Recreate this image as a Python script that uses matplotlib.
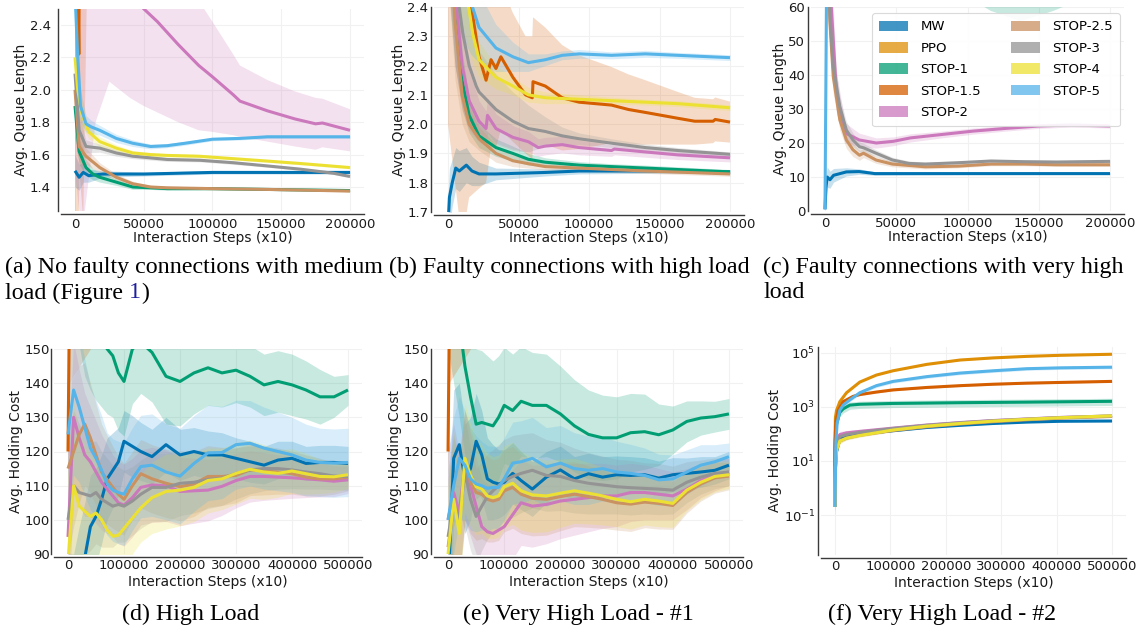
import numpy as np
import matplotlib
matplotlib.use("Agg")
import matplotlib.pyplot as plt
from matplotlib.patches import Patch
from matplotlib.ticker import NullLocator

plt.rcParams['font.family'] = ['DejaVu Sans']

METHODS = ["MW", "PPO", "STOP-1", "STOP-1.5", "STOP-2", "STOP-2.5", "STOP-3", "STOP-4", "STOP-5"]
COLORS = ["#0173b2", "#de8f05", "#029e73", "#d55e00", "#cc78bc", "#ca9161", "#949494", "#ece133", "#56b4e9"]

XTICKS_TOP = [0, 50000, 100000, 150000, 200000]
XTICKS_BOT = [0, 100000, 200000, 300000, 400000, 500000]
YTICKS_A = [1.4, 1.6, 1.8, 2.0, 2.2, 2.4]
YTICKS_B = [1.7, 1.8, 1.9, 2.0, 2.1, 2.2, 2.3, 2.4]
YTICKS_C = [0, 10, 20, 30, 40, 50, 60]
YTICKS_DE = [90, 100, 110, 120, 130, 140, 150]
YTICKS_F = [0.1, 10, 1000, 100000]

# ---------------- Panel (a): (step, mean, spread) ----------------
A_MW = [(0, 1.50, 0.10), (3000, 1.46, 0.08), (6000, 1.49, 0.06), (10000, 1.47, 0.04), (20000, 1.48, 0.02),
        (50000, 1.48, 0.012), (100000, 1.49, 0.01), (150000, 1.49, 0.01), (200000, 1.49, 0.01)]
A_S1 = [(0, 1.90, 0.2), (3000, 1.62, 0.08), (8000, 1.52, 0.05), (13000, 1.48, 0.035), (18000, 1.46, 0.03),
        (30000, 1.43, 0.02), (42000, 1.40, 0.015), (55000, 1.395, 0.01), (67000, 1.39, 0.01),
        (100000, 1.39, 0.008), (140000, 1.385, 0.006), (200000, 1.378, 0.006)]
A_S15 = [(0, 4.0, 2.8), (2800, 2.22, 1.0), (3200, 3.0, 1.5), (6000, 3.6, 2.4), (9000, 3.6, 0.8), (200000, 3.2, 0.5)]
A_S2 = [(0, 3.5, 2.0), (5000, 3.3, 2.2), (15000, 3.1, 1.3), (25000, 2.8, 0.75), (40000, 2.6, 0.65),
        (50000, 2.5, 0.6), (60000, 2.42, 0.56), (75000, 2.28, 0.48), (90000, 2.15, 0.4), (100000, 2.08, 0.34),
        (115000, 1.97, 0.25), (120000, 1.93, 0.22), (140000, 1.87, 0.19), (160000, 1.82, 0.17),
        (175000, 1.79, 0.16), (180000, 1.795, 0.15), (200000, 1.75, 0.13)]
A_S25 = [(0, 2.0, 0.3), (3000, 1.65, 0.1), (8000, 1.59, 0.05), (18000, 1.52, 0.03), (30000, 1.46, 0.02),
         (42000, 1.42, 0.015), (55000, 1.40, 0.01), (67000, 1.395, 0.01), (100000, 1.39, 0.008),
         (140000, 1.385, 0.006), (200000, 1.375, 0.006)]
A_S3 = [(0, 2.1, 0.3), (3000, 1.75, 0.1), (8000, 1.65, 0.04), (18000, 1.64, 0.025), (30000, 1.61, 0.02),
        (42000, 1.59, 0.015), (67000, 1.57, 0.012), (91000, 1.565, 0.01), (115000, 1.55, 0.01),
        (140000, 1.53, 0.008), (164000, 1.51, 0.008), (188000, 1.485, 0.008), (200000, 1.465, 0.008)]
A_S4 = [(0, 2.2, 0.3), (2000, 2.0, 0.15), (5000, 1.85, 0.08), (10000, 1.74, 0.04), (18000, 1.68, 0.03),
        (30000, 1.64, 0.02), (42000, 1.61, 0.015), (55000, 1.60, 0.012), (67000, 1.595, 0.01),
        (90000, 1.59, 0.01), (115000, 1.575, 0.008), (140000, 1.56, 0.008), (164000, 1.545, 0.008),
        (200000, 1.52, 0.008)]
A_S5 = [(0, 2.6, 0.5), (2000, 2.2, 0.2), (4000, 1.9, 0.1), (8000, 1.79, 0.05), (12000, 1.77, 0.04),
        (18000, 1.75, 0.03), (30000, 1.70, 0.025), (42000, 1.67, 0.02), (55000, 1.65, 0.015),
        (67000, 1.655, 0.012), (80000, 1.67, 0.012), (100000, 1.695, 0.01), (120000, 1.70, 0.01),
        (140000, 1.71, 0.01), (170000, 1.71, 0.01), (200000, 1.71, 0.01)]

# ---------------- Panel (b) ----------------
B_MW = [(0, 1.65, 0.1), (1000, 1.75, 0.1), (3000, 1.80, 0.08), (5500, 1.85, 0.07), (8000, 1.84, 0.07),
        (13000, 1.86, 0.06), (17000, 1.84, 0.05), (22000, 1.83, 0.04), (34000, 1.83, 0.02),
        (69000, 1.835, 0.012), (93000, 1.84, 0.01), (140000, 1.84, 0.008), (200000, 1.837, 0.006)]
B_S1 = [(0, 2.8, 0.3), (5000, 2.4, 0.2), (10000, 2.15, 0.1), (15000, 2.03, 0.06), (22000, 1.96, 0.04),
        (34000, 1.92, 0.03), (46000, 1.90, 0.025), (57000, 1.88, 0.02), (69000, 1.87, 0.015),
        (93000, 1.86, 0.012), (116000, 1.855, 0.01), (140000, 1.85, 0.01), (200000, 1.837, 0.008)]
B_S15 = [(0, 3.2, 1.2), (10000, 2.7, 1.1), (15000, 2.45, 0.7), (22000, 2.23, 0.45), (27000, 2.15, 0.35),
         (30500, 2.22, 0.3), (34000, 2.19, 0.27), (37500, 2.23, 0.25), (46000, 2.16, 0.22),
         (55000, 2.10, 0.2), (59800, 2.09, 0.21), (60300, 2.145, 0.22), (69000, 2.13, 0.2),
         (81000, 2.09, 0.18), (93000, 2.075, 0.16), (116000, 2.065, 0.13), (128000, 2.05, 0.12),
         (140000, 2.04, 0.11), (163000, 2.02, 0.09), (175000, 2.01, 0.08), (188000, 2.01, 0.075),
         (189500, 2.016, 0.075), (200000, 2.007, 0.07)]
B_S2 = [(0, 3.0, 0.4), (5000, 2.45, 0.25), (10000, 2.2, 0.15), (15000, 2.08, 0.1), (22000, 2.01, 0.07),
        (27000, 1.985, 0.06), (28000, 2.03, 0.06), (34000, 1.985, 0.05), (46000, 1.955, 0.04),
        (57000, 1.94, 0.035), (64000, 1.92, 0.03), (69000, 1.925, 0.03), (81000, 1.93, 0.028),
        (93000, 1.92, 0.025), (116000, 1.91, 0.02), (118000, 1.915, 0.02), (140000, 1.905, 0.018),
        (163000, 1.895, 0.016), (200000, 1.885, 0.014)]
B_S25 = [(0, 2.8, 0.3), (5000, 2.35, 0.2), (10000, 2.1, 0.1), (15000, 2.0, 0.06), (22000, 1.95, 0.04),
         (34000, 1.90, 0.03), (46000, 1.875, 0.02), (57000, 1.865, 0.015), (69000, 1.855, 0.012),
         (93000, 1.85, 0.01), (116000, 1.845, 0.01), (140000, 1.84, 0.008), (200000, 1.83, 0.008)]
B_S3 = [(0, 3.0, 0.5), (5000, 2.5, 0.3), (10500, 2.31, 0.25), (15000, 2.2, 0.2), (20000, 2.13, 0.15),
        (22000, 2.11, 0.14), (34000, 2.05, 0.12), (46000, 2.01, 0.1), (57000, 1.985, 0.08),
        (69000, 1.975, 0.05), (81000, 1.96, 0.03), (93000, 1.95, 0.02), (116000, 1.935, 0.015),
        (140000, 1.92, 0.012), (163000, 1.91, 0.01), (200000, 1.897, 0.008)]
B_S4 = [(0, 3.0, 0.4), (10000, 2.55, 0.2), (14000, 2.42, 0.15), (17500, 2.31, 0.1), (22000, 2.22, 0.06),
        (34000, 2.16, 0.04), (46000, 2.13, 0.03), (57000, 2.10, 0.025), (69000, 2.09, 0.02),
        (93000, 2.085, 0.015), (116000, 2.08, 0.012), (140000, 2.075, 0.01), (163000, 2.07, 0.01),
        (200000, 2.056, 0.01)]
B_S5 = [(0, 3.0, 0.4), (10000, 2.55, 0.25), (16000, 2.42, 0.18), (22000, 2.33, 0.12), (34000, 2.26, 0.08),
        (46000, 2.23, 0.05), (57000, 2.21, 0.03), (69000, 2.22, 0.02), (81000, 2.235, 0.015),
        (93000, 2.24, 0.015), (116000, 2.235, 0.012), (140000, 2.24, 0.012), (163000, 2.235, 0.01),
        (200000, 2.227, 0.01)]

# ---------------- Panel (c) ----------------
C_MW = [(0, 0.5, 0.5), (700, 7, 3), (1500, 10, 3), (3500, 9.2, 2.5), (6000, 10.5, 2), (15000, 11.5, 1.2),
        (24000, 11.6, 0.8), (35000, 11.0, 0.5), (60000, 11.0, 0.4), (100000, 11.0, 0.3),
        (150000, 11.0, 0.3), (200000, 11.0, 0.3)]
C_S1 = [(0, 150, 30), (20000, 90, 20), (50000, 80, 15), (100000, 78, 15), (116000, 77, 18),
        (137000, 76, 20), (160000, 77, 18), (200000, 78, 12)]
C_S2 = [(0, 120, 30), (3000, 70, 15), (8000, 35, 6), (14000, 23, 3), (24000, 20.9, 2), (36000, 20.0, 1.5),
        (48000, 20.5, 1.3), (60000, 21.5, 1.2), (82000, 22.5, 1.0), (104000, 23.5, 0.9),
        (127000, 24.3, 0.8), (150000, 25.0, 0.7), (173000, 25.3, 0.6), (200000, 25.0, 0.6)]
C_S25 = [(0, 100, 20), (3500, 55, 8), (5800, 39.5, 5), (10400, 26.8, 3), (15000, 20.9, 2.5), (19600, 18, 2),
         (24200, 16.4, 1.5), (27000, 17, 1.3), (35800, 15, 1), (47300, 13.8, 0.8), (70400, 13, 0.6),
         (93400, 13.2, 0.5), (116500, 13.8, 0.5), (139600, 13.8, 0.5), (162600, 13.6, 0.5),
         (200000, 13.6, 0.5)]
C_S3 = [(0, 100, 20), (3500, 57, 8), (5800, 42.5, 5), (10400, 30.7, 3), (15000, 23.8, 2.5), (19600, 20.9, 2),
        (24200, 18.9, 1.5), (27000, 18.6, 1.3), (35800, 17, 1), (47300, 15, 0.8), (58800, 14, 0.7),
        (70400, 13.8, 0.6), (93400, 14.2, 0.5), (116500, 14.7, 0.5), (139600, 14.5, 0.5),
        (162600, 14.4, 0.5), (200000, 14.6, 0.5)]
C_S5 = [(0, 0.5, 0.5), (1500, 90, 10), (200000, 120, 10)]

# ---------------- Panels (d) and (e): shared step grid ----------------
X_DE = [0, 10000, 20000, 30000, 40000, 50000, 60000, 70000, 80000, 90000, 100000, 115000, 130000, 150000,
        175000, 200000, 225000, 250000, 275000, 300000, 325000, 350000, 375000, 400000, 425000, 450000,
        475000, 500000]

D_MW = [70, 70, 80, 89, 98, 101, 106, 112, 114.5, 117, 123, 121.5, 120, 118.5, 122, 119, 120, 119, 119, 118,
        117, 116, 117.5, 118, 116.5, 116.8, 116.8, 116.5]
D_MW_SD = [20, 20, 18, 16, 15, 14, 13, 12, 11, 10, 9, 9, 8.5, 8, 8, 7.5, 7, 7, 6.5, 6, 6, 5.5, 5.5, 5, 5, 5, 5, 5]
D_S1 = [200, 190, 175, 165, 160, 156, 153, 150, 148, 143, 140.5, 150, 152, 149, 142, 140.5, 143, 144.5, 143,
        143.8, 142, 139.5, 140.5, 139.5, 138, 136, 136, 138]
D_S1_SD = [25, 25, 24, 23, 22, 21, 20, 19, 18, 17, 16, 16, 15, 14.5, 14, 13, 12, 11, 10, 9.5, 9, 9, 9, 9, 8.5,
           8, 6, 4.5]
D_S15 = [(0, 120, 15), (3000, 170, 30), (500000, 300, 30)]
D_S2 = [95, 130, 124, 119, 117, 114, 111, 109, 107, 105, 104.3, 106.5, 109.5, 110.2, 110, 108.3, 108.5, 108.7,
        109.8, 111.5, 112.7, 112.7, 112.5, 112.3, 112, 111.7, 111.3, 111.7]
D_S2_SD = [25, 22, 20, 18, 16, 15, 14, 13, 12, 12, 12, 11.5, 11, 11, 10.5, 10, 9.5, 9, 8.5, 8, 7.5, 7, 6.5, 6,
           5.5, 5, 4.5, 4]
D_S25 = [115, 120, 125, 128, 124, 119, 114, 111.7, 109.5, 107.5, 106, 110, 113.5, 112, 110.7, 109.7, 110.5,
         112.7, 112.7, 113, 114.6, 114.3, 114, 113.5, 112.5, 112, 112, 112.5]
D_S25_SD = [25, 22, 20, 18, 16, 15, 14, 13, 12, 11, 10.5, 10, 10, 10, 10, 10, 9.5, 9, 8.5, 8, 7.5, 7, 6.5, 6,
            5.5, 5, 4.5, 4]
D_S3 = [100, 110, 108, 107.5, 107, 108, 106, 105, 104, 104.5, 104, 105.5, 107.5, 109.5, 109.5, 110.7, 111,
        111.8, 112.2, 113.6, 114.6, 115, 115, 114.6, 114, 113.5, 112.8, 112.7]
D_S3_SD = [25, 22, 20, 18, 16, 15, 14, 13, 12, 11, 10.5, 10, 10, 10, 10, 9.5, 9, 8.5, 8, 7.5, 7, 6.5, 6, 5.5,
           5, 4.5, 4, 4]
D_S4 = [88, 110, 104, 102.5, 101, 102, 100, 97, 95.2, 95.5, 97.5, 100.5, 103.5, 106.5, 108.3, 108.7, 109.5,
        111.5, 112, 113.6, 114.8, 114, 113.6, 114.3, 113.5, 112.7, 112.6, 113.2]
D_S4_SD = [25, 25, 22, 20, 18, 16, 15, 14, 13, 12, 11, 10.5, 10, 10.5, 11, 10.5, 10, 9.5, 9, 9, 8.5, 8, 7,
           6.5, 6, 5, 4.5, 4]
D_S5 = [125, 138, 133, 127, 121, 118, 114.5, 110.5, 108.7, 108, 107.5, 112, 115.6, 116, 114, 112.8, 116.5,
        119.6, 119.7, 122, 122.4, 121, 120, 119, 117.5, 116.8, 116.6, 116.8]
D_S5_SD = [25, 25, 22, 20, 18, 17, 16, 15, 15, 15, 15, 15, 15, 15, 14, 14, 14, 14, 13.5, 13, 12.5, 12, 11.5,
           11, 10.5, 10, 10, 10]

E_MW = [80, 118, 122, 112, 115, 123, 119, 112, 111, 110.5, 111, 113.6, 111.5, 109, 112.5, 114.6, 112, 113.5,
        112.5, 113.2, 113, 113.2, 112.2, 113.2, 113.6, 114, 114.5, 116]
E_MW_SD = [20, 20, 18, 16, 15, 14, 13, 12, 11, 10, 9.5, 9, 8.5, 8, 7.5, 7, 6.5, 6, 6, 5.5, 5.5, 5, 5, 5, 4.5,
           4.5, 4, 4]
E_S1 = [180, 170, 158, 145, 136, 128, 128.5, 128, 127.5, 130, 133.5, 132, 134.7, 133.5, 133.5, 131, 127.5, 125,
        124, 124, 125.5, 125.8, 124.9, 126.3, 128.8, 129.8, 130.2, 131]
E_S1_SD = [30, 30, 28, 26, 24, 22, 21, 20, 19, 18, 17, 16.5, 16, 15.5, 15, 14, 13.5, 13, 12.5, 12, 11.5, 11,
           9, 7, 6, 5, 4.5, 4.5]
E_S15 = [(0, 120, 15), (3000, 170, 30), (500000, 300, 30)]
E_S2 = [100, 108, 102, 116, 110, 104, 98, 96.5, 96, 97, 98, 101.5, 105, 104, 104.5, 105.5, 106, 106.5, 107,
        107, 108, 108, 107.5, 107, 109, 111.5, 113, 114]
E_S2_SD = [20, 20, 18, 16, 15, 14, 14, 14, 14, 14, 13.5, 13, 12.5, 12, 11.5, 11, 10.5, 10, 9.5, 9, 8.5, 8, 7.5,
           7, 6, 5, 4.5, 4]
E_S25 = [92, 104, 100, 116, 111, 108, 107.5, 106, 105.5, 106, 108.5, 109.5, 107.5, 106.3, 106, 106.8, 107.5,
         106.8, 106, 105, 104.6, 105.2, 104.8, 104.2, 108, 110.5, 112.3, 112.8]
E_S25_SD = [20, 20, 18, 16, 15, 14, 13, 12.5, 12, 12, 12, 12, 11.5, 11, 10.5, 10, 9.5, 9, 8.5, 8, 8, 7.5, 7.5,
            7, 6, 5, 4.5, 4]
E_S3 = [95, 105, 100, 114, 106, 101, 104, 106.8, 108.5, 110, 111.5, 112.7, 113.6, 114.5, 113, 112.7, 111.5,
        110.7, 110.2, 109.7, 109.4, 109.2, 109, 108.7, 111, 112.5, 113.6, 114]
E_S3_SD = [20, 20, 18, 16, 15, 14, 13, 12.5, 12, 12, 12, 12, 11.5, 11, 10.5, 10, 9.5, 9, 8.5, 8, 8, 7.5, 7.5,
           7, 6, 5, 4.5, 4]
E_S4 = [90, 106, 96, 118, 113, 109.7, 109, 107, 106.5, 107, 109.7, 110.7, 108.5, 107.3, 107, 107.8, 108.5,
        107.8, 107, 106, 105.3, 106, 105.5, 104.8, 108.7, 111, 112.7, 113.2]
E_S4_SD = [20, 20, 18, 16, 15, 14, 13, 12.5, 12, 12, 12, 12, 11.5, 11, 10.5, 10, 9.5, 9, 8.5, 8, 8, 7.5, 7.5,
           7, 6, 5, 4.5, 4]
E_S5 = [100, 110, 118, 116, 112, 110.5, 110, 109.2, 109.5, 109.5, 112, 116.6, 117, 118, 115.5, 116.6, 115,
        114.5, 115, 114, 113.6, 113, 111.7, 112, 114, 116, 117, 118.5]
E_S5_SD = [20, 20, 18, 16, 15, 14, 13, 12.5, 12, 12, 12, 12, 12, 12, 11.5, 11, 10.5, 10, 9.5, 9, 8.5, 8, 7.5,
           7, 6.5, 6, 5, 4]

# ---------------- Panel (f): log scale ----------------
X_F = [0, 1000, 3000, 9000, 21000, 45000, 105000, 166000, 226000, 286000, 346000, 407000, 500000]
F_MW = [0.2, 5, 22, 66, 87, 100, 132, 174, 209, 245, 275, 295, 302]
F_MW_SD = [0.1, 2, 6, 8, 8, 8, 8, 9, 10, 10, 10, 10, 10]
F_S2 = [0.3, 10, 60, 95, 110, 125, 165, 215, 265, 315, 360, 410, 460]
F_S2_SD = [0.2, 5, 25, 30, 25, 20, 20, 22, 25, 28, 30, 32, 35]
F_S25 = [0.2, 6, 30, 55, 70, 90, 135, 185, 235, 285, 335, 385, 445]
F_S25_SD = [0.1, 3, 10, 10, 10, 12, 15, 18, 20, 23, 25, 28, 30]
F_S3 = [0.2, 8, 40, 80, 95, 115, 160, 210, 260, 310, 355, 405, 470]
F_S3_SD = [0.1, 3, 10, 10, 10, 12, 15, 18, 20, 23, 25, 28, 30]
F_S4 = [0.2, 6, 25, 55, 70, 88, 140, 195, 245, 300, 350, 400, 470]
F_S4_SD = [0.1, 3, 10, 10, 10, 12, 15, 18, 20, 23, 25, 28, 30]
F_PPO = [(0, 0.2, 0.1), (300, 60, 20), (1000, 400, 40), (3000, 740, 60), (9000, 1575, 100), (21000, 3360, 200),
         (45000, 8350, 400), (75000, 15200, 700), (105000, 21900, 1000), (166000, 37800, 1600),
         (226000, 54700, 2200), (286000, 65600, 2700), (346000, 74600, 3000), (407000, 81700, 3200),
         (500000, 89500, 3500)]
F_S15 = [(0, 0.3, 0.2), (300, 50, 20), (1800, 295, 40), (6000, 740, 80), (15000, 1575, 150), (33000, 2470, 200),
         (45000, 2880, 230), (75000, 3570, 280), (105000, 4280, 320), (166000, 5280, 400), (226000, 6150, 450),
         (286000, 6950, 500), (346000, 7610, 550), (407000, 8100, 580), (500000, 8850, 620)]
F_S5 = [(0, 0.2, 0.1), (1000, 2, 1), (1800, 51, 10), (4200, 258, 40), (9000, 760, 120), (15000, 1170, 190),
        (27000, 1830, 280), (45000, 3360, 500), (75000, 6150, 900), (105000, 8850, 1200),
        (166000, 13300, 1800), (226000, 18000, 2400), (286000, 21900, 2900), (346000, 26100, 3400),
        (407000, 28100, 3600), (500000, 29700, 3900)]
F_S1 = [(0, 0.2, 0.1), (500, 30, 10), (2000, 200, 60), (9000, 630, 190), (15000, 850, 250), (27000, 1170, 350),
        (45000, 1260, 380), (105000, 1350, 400), (226000, 1440, 430), (346000, 1510, 450),
        (500000, 1620, 480)]

W, H = 1147, 630
fig = plt.figure(figsize=(W / 100, H / 100), dpi=100)


def add_ax(l, t, r, b):
    return fig.add_axes([l / W, 1 - b / H, (r - l) / W, (b - t) / H])


def draw(ax, name, pts, log=False):
    arr = np.array(pts, dtype=float)
    x, m, s = arr[:, 0], arr[:, 1], arr[:, 2]
    c = COLORS[METHODS.index(name)]
    lo = m - s
    if log:
        lo = np.maximum(lo, m * 0.02)
    ax.fill_between(x, lo, m + s, color=c, alpha=0.22, lw=0)
    ax.plot(x, m, color=c, lw=2.2, solid_capstyle='butt')


def grid_pts(xs, ys, sds):
    return list(zip(xs, ys, sds))


def style(ax, xticks, yticks, xlim, ylim, ylabel, ypad, xpad, xlabpad):
    ax.set_xlim(xlim)
    ax.set_ylim(ylim)
    ax.set_xticks(xticks)
    ax.set_yticks(yticks)
    for s in ['top', 'right']:
        ax.spines[s].set_visible(False)
    for s in ['left', 'bottom']:
        ax.spines[s].set_color('#3a3a3a')
        ax.spines[s].set_linewidth(1.0)
        ax.spines[s].set_position(('outward', 2))
    ax.tick_params(length=0, labelsize=9.5, colors='#1a1a1a')
    ax.tick_params(axis='y', pad=ypad)
    ax.tick_params(axis='x', pad=xpad)
    ax.grid(True, color='#f1f1f1', lw=0.8)
    ax.set_axisbelow(True)
    ax.set_xlabel('Interaction Steps (x10)', fontsize=10, labelpad=xlabpad, color='#1a1a1a')
    ax.set_ylabel(ylabel, fontsize=10, labelpad=1, color='#1a1a1a')


# (a)
ax = add_ax(61.25, 8.8, 363.75, 211.3)
for name, pts in [("MW", A_MW), ("STOP-1", A_S1), ("STOP-1.5", A_S15), ("STOP-2", A_S2), ("STOP-2.5", A_S25),
                  ("STOP-3", A_S3), ("STOP-4", A_S4), ("STOP-5", A_S5)]:
    draw(ax, name, pts)
style(ax, XTICKS_TOP, YTICKS_A, (-10000, 210000), (1.25, 2.5), 'Avg. Queue Length', 5.5, 2.5, 0)

# (b)
ax = add_ax(433.9, 7, 744.1, 212)
for name, pts in [("MW", B_MW), ("STOP-1", B_S1), ("STOP-1.5", B_S15), ("STOP-2", B_S2), ("STOP-2.5", B_S25),
                  ("STOP-3", B_S3), ("STOP-4", B_S4), ("STOP-5", B_S5)]:
    draw(ax, name, pts)
style(ax, XTICKS_TOP, YTICKS_B, (-10000, 210000), (1.7, 2.4), 'Avg. Queue Length', 2, 2.5, 0)

# (c)
ax = add_ax(810.75, 7, 1124.25, 211)
for name, pts in [("MW", C_MW), ("STOP-1", C_S1), ("STOP-2", C_S2), ("STOP-2.5", C_S25),
                  ("STOP-3", C_S3), ("STOP-5", C_S5)]:
    draw(ax, name, pts)
style(ax, XTICKS_TOP, YTICKS_C, (-10000, 210000), (0, 60), 'Avg. Queue Length', 2, 2.5, 0)
handles = [Patch(facecolor=c, alpha=0.75, edgecolor='none') for c in COLORS]
leg = ax.legend(handles, METHODS, ncol=2, loc='upper right', bbox_to_anchor=(0.9865, 0.97),
                borderaxespad=0, fontsize=9.5, handlelength=2.2, handleheight=0.85, handletextpad=0.9,
                columnspacing=2.3, labelspacing=0.64, frameon=True, fancybox=True, framealpha=0.9,
                borderpad=0.55)
leg.get_frame().set_edgecolor('#d6d6d6')
leg.get_frame().set_linewidth(0.8)

# (d)
ax = add_ax(54, 349, 362, 554)
draw(ax, "MW", grid_pts(X_DE, D_MW, D_MW_SD))
draw(ax, "STOP-1", grid_pts(X_DE, D_S1, D_S1_SD))
draw(ax, "STOP-1.5", D_S15)
draw(ax, "STOP-2", grid_pts(X_DE, D_S2, D_S2_SD))
draw(ax, "STOP-2.5", grid_pts(X_DE, D_S25, D_S25_SD))
draw(ax, "STOP-3", grid_pts(X_DE, D_S3, D_S3_SD))
draw(ax, "STOP-4", grid_pts(X_DE, D_S4, D_S4_SD))
draw(ax, "STOP-5", grid_pts(X_DE, D_S5, D_S5_SD))
style(ax, XTICKS_BOT, YTICKS_DE, (-25000, 525000), (90, 150), 'Avg. Holding Cost', 1, 1.5, 2)

# (e)
ax = add_ax(434, 349, 743, 554)
draw(ax, "MW", grid_pts(X_DE, E_MW, E_MW_SD))
draw(ax, "STOP-1", grid_pts(X_DE, E_S1, E_S1_SD))
draw(ax, "STOP-1.5", E_S15)
draw(ax, "STOP-2", grid_pts(X_DE, E_S2, E_S2_SD))
draw(ax, "STOP-2.5", grid_pts(X_DE, E_S25, E_S25_SD))
draw(ax, "STOP-3", grid_pts(X_DE, E_S3, E_S3_SD))
draw(ax, "STOP-4", grid_pts(X_DE, E_S4, E_S4_SD))
draw(ax, "STOP-5", grid_pts(X_DE, E_S5, E_S5_SD))
style(ax, XTICKS_BOT, YTICKS_DE, (-25000, 525000), (90, 150), 'Avg. Holding Cost', 1.5, 1.5, 2)

# (f)
ax = add_ax(821, 347, 1125.85, 555)
ax.set_yscale('log')
draw(ax, "MW", grid_pts(X_F, F_MW, F_MW_SD), log=True)
draw(ax, "PPO", F_PPO, log=True)
draw(ax, "STOP-1", F_S1, log=True)
draw(ax, "STOP-1.5", F_S15, log=True)
draw(ax, "STOP-2", grid_pts(X_F, F_S2, F_S2_SD), log=True)
draw(ax, "STOP-2.5", grid_pts(X_F, F_S25, F_S25_SD), log=True)
draw(ax, "STOP-3", grid_pts(X_F, F_S3, F_S3_SD), log=True)
draw(ax, "STOP-4", grid_pts(X_F, F_S4, F_S4_SD), log=True)
draw(ax, "STOP-5", F_S5, log=True)
style(ax, XTICKS_BOT, YTICKS_F, (-25000, 525000), (10 ** -2.48, 10 ** 5.22), 'Avg. Holding Cost', 2, 1.5, 2)
ax.yaxis.set_minor_locator(NullLocator())

# ---------------- Captions ----------------
CAP = dict(family='Liberation Serif', fontsize=17.3, color='black', va='center')


def px(x, y):
    return x / W, 1 - y / H


fig.text(*px(5, 267), '(a) No faulty connections with medium', ha='left', **CAP)
fig.text(*px(569, 267), '(b) Faulty connections with high load', ha='center', **CAP)
fig.text(*px(763, 267), '(c) Faulty connections with very high', ha='left', **CAP)
fig.text(*px(763, 293), 'load', ha='left', **CAP)

renderer = fig.canvas.get_renderer()


def width_px(s):
    t = fig.text(0, 0, s, **CAP)
    w = t.get_window_extent(renderer).width
    t.remove()
    return w


x0 = 5
fig.text(*px(x0, 293), 'load (Figure', ha='left', **CAP)
w_pre = width_px('load (Figure 1')
w_one = width_px('1')
fig.text(*px(x0 + w_pre - w_one, 293), '1', ha='left', **{**CAP, 'color': '#1f1f9e'})
fig.text(*px(x0 + w_pre, 293), ')', ha='left', **CAP)

fig.text(*px(191, 614), '(d) High Load', ha='center', **CAP)
fig.text(*px(578, 614), '(e) Very High Load - #1', ha='center', **CAP)
fig.text(*px(942, 614), '(f) Very High Load - #2', ha='center', **CAP)

fig.savefig('out.png', dpi=100)
